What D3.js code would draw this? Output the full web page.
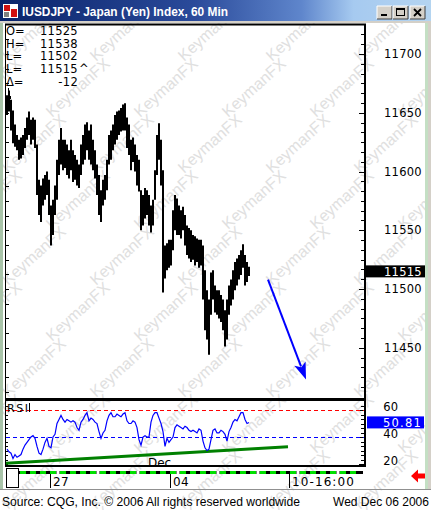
<!DOCTYPE html>
<html><head><meta charset="utf-8">
<script src="https://cdn.jsdelivr.net/npm/d3@7"></script>
<style>body{margin:0;background:#fff;} svg{display:block;}</style>
</head><body><svg id="c" width="431" height="510"></svg>
<script>
// ---------- DATA ----------
const barHigh = [
11665,11669,11661,11652,11640,11631,11627,11629,11631,11637,
11646,11651,11644,11646,11644,11623,11593,11588,11594,11597,
11600,11593,11571,11576,11588,11610,11627,11637,11627,11627,
11623,11618,11627,11618,11614,11610,11606,11623,11631,11640,
11642,11635,11640,11627,11618,11606,11597,11584,11593,11597,
11610,11631,11635,11640,11648,11651,11652,11654,11657,11658,
11646,11640,11627,11629,11623,11614,11610,11584,11580,11586,
11584,11580,11571,11576,11601,11631,11641,11627,11601,11537,
11539,11542,11542,11567,11580,11577,11571,11567,11570,11563,
11554,11552,11550,11546,11545,11543,11542,11542,11537,11516,
11499,11491,11514,11516,11503,11499,11499,11495,11491,11482,
11491,11503,11508,11516,11523,11526,11529,11533,11538,11529,
11523,11519];
const barLow = [
11648,11651,11635,11624,11621,11618,11610,11611,11614,11620,
11627,11631,11623,11627,11620,11580,11563,11557,11571,11576,
11580,11563,11537,11546,11563,11576,11597,11606,11601,11603,
11597,11594,11601,11591,11593,11588,11586,11597,11606,11610,
11618,11610,11606,11601,11594,11580,11563,11557,11571,11576,
11584,11606,11610,11618,11623,11627,11631,11634,11635,11635,
11620,11614,11601,11608,11600,11588,11583,11550,11554,11560,
11563,11554,11548,11554,11576,11597,11610,11588,11497,11509,
11516,11518,11520,11533,11550,11546,11546,11543,11550,11537,
11529,11526,11523,11525,11520,11523,11518,11520,11491,11465,
11457,11444,11478,11491,11480,11478,11475,11472,11465,11451,
11457,11478,11486,11491,11499,11503,11508,11512,11518,11503,
11506,11511];
const rsiValues = [
31,29,28,24,27,25,26,27,31,34,
36,38,40,41,39,33,28,27,31,36,
39,33,32,40,42,50,53,56,53,51,
53,52,51,52,51,47,45,51,53,56,
58,52,54,53,51,50,44,39,43,45,
52,56,58,55,55,57,56,55,57,58,
52,50,50,52,51,47,38,34,40,41,
40,40,51,56,58,58,54,50,44,33,
39,36,38,40,47,49,48,47,46,48,
47,45,44,45,44,43,46,45,37,32,
30,31,38,45,46,43,43,45,44,42,
37,44,47,51,53,52,55,58,58,53,
50,50.81];
const priceTicks = [11450, 11500, 11550, 11600, 11650, 11700];
const rsiTicks = [20, 40, 60];
const rsiLevels = [60, 40];
const timeTickIdx = [22, 82, 141.5];
const timeTickLabels = ["27", "04", "10-16:00"];
const monthLabel = "Dec";
const infoNames = ["O=", "H=", "L=", "L=", "\u0394="];
const infoValues = ["11525", "11538", "11502", "11515", "-12"];
const infoSuffix = ["", "", "", "^", ""];
const lastPrice = 11515;
const lastRsi = 50.81;
const trendIdx = [0, 141];
const trendRsi = [20.5, 32.8];
const arrowIdx = [131, 150];
const arrowPrice = [11508, 11423];
const titleText = "IUSDJPY - Japan (Yen) Index, 60 Min";
const footerLeft = "Source: CQG, Inc. \u00a9 2006 All rights reserved worldwide";
const footerRight = "Wed Dec 06 2006";

// ---------- SCALES ----------
const W = 431, H = 510;
const svg = d3.select("#c");
const x = d3.scaleLinear().domain([0, 180]).range([6, 366]);
const yP = d3.scaleLinear().domain([11450, 11700]).range([347.75, 54]);
const yR = d3.scaleLinear().domain([20, 60]).range([464, 410]);
const numFont = "'DejaVu Sans', sans-serif";

svg.append("rect").attr("width", W).attr("height", H).attr("fill", "#fff");

// watermark (clipped to the window)
const defs = svg.append("defs");
defs.append("clipPath").attr("id", "wc").append("rect").attr("x", 0).attr("y", 22).attr("width", W).attr("height", H - 22);
const wm = svg.append("g").attr("clip-path", "url(#wc)").attr("fill", "#e0e0e0")
  .style("font-family", "'Liberation Sans', Arial, sans-serif").style("font-size", "16px");
for (let r = 0; r < 10; r++) {
  for (let c = -1; c < 6; c++) {
    const x0 = c * 88 + (r % 2) * 44 + 8, y0 = 62 + r * 56;
    wm.append("text").attr("transform", `translate(${x0},${y0}) rotate(-42)`).text("KeymanFX");
  }
}

// side strips
svg.append("rect").attr("x", 0).attr("y", 22).attr("width", 3).attr("height", 467).attr("fill", "#a9c4a9");
svg.append("rect").attr("x", 425).attr("y", 22).attr("width", 3).attr("height", 467).attr("fill", "#c4dfc4");
svg.append("rect").attr("x", 428).attr("y", 22).attr("width", 3).attr("height", 467).attr("fill", "#d4d0c8");

// title bar
const grad = defs.append("linearGradient").attr("id", "tg").attr("x1", 0).attr("x2", 1).attr("y1", 0).attr("y2", 0);
[[0, "#0a246a"], [0.45, "#2a4a9a"], [0.7, "#5f86cc"], [0.82, "#a6caf0"], [1, "#b4d4f0"]]
  .forEach(([o, c]) => grad.append("stop").attr("offset", o).attr("stop-color", c));
svg.append("rect").attr("x", 0).attr("y", 0).attr("width", W).attr("height", 22).attr("fill", "url(#tg)");
svg.append("rect").attr("x", 0).attr("y", 21).attr("width", W).attr("height", 2).attr("fill", "#d4d0c8");
// icon
svg.append("rect").attr("x", 3).attr("y", 4).attr("width", 15).attr("height", 14).attr("fill", "#fff");
svg.append("rect").attr("x", 4).attr("y", 5).attr("width", 6).attr("height", 6).attr("fill", "#d01010");
svg.append("rect").attr("x", 11).attr("y", 9).attr("width", 6).attr("height", 8).attr("fill", "#d01010");
svg.append("rect").attr("x", 4).attr("y", 12).attr("width", 5).attr("height", 5).attr("fill", "#808080");
svg.append("text").attr("x", 22).attr("y", 16).attr("fill", "#fff")
  .attr("textLength", 206).attr("lengthAdjust", "spacingAndGlyphs")
  .style("font-family", "'Liberation Sans', Arial, sans-serif").style("font-weight", "bold").style("font-size", "12.5px")
  .text(titleText);
// buttons
[377, 393, 410].forEach((bx, k) => {
  const g = svg.append("g");
  g.append("rect").attr("x", bx).attr("y", 6).attr("width", 15).attr("height", 13).attr("fill", "#d4d0c8");
  g.append("path").attr("d", `M${bx},${19}V6H${bx + 15}`).attr("stroke", "#fff").attr("fill", "none");
  g.append("path").attr("d", `M${bx},${19}H${bx + 15}V6`).attr("stroke", "#404040").attr("fill", "none");
  if (k === 0) g.append("rect").attr("x", bx + 4).attr("y", 14).attr("width", 6).attr("height", 2).attr("fill", "#000");
  if (k === 1) {
    g.append("rect").attr("x", bx + 3.5).attr("y", 8.5).attr("width", 8).attr("height", 7).attr("fill", "none").attr("stroke", "#000");
    g.append("rect").attr("x", bx + 3.5).attr("y", 8.5).attr("width", 8).attr("height", 1.5).attr("fill", "#000");
  }
  if (k === 2) g.append("path").attr("d", `M${bx + 4},9L${bx + 11},16M${bx + 11},9L${bx + 4},16`).attr("stroke", "#000").attr("stroke-width", 1.8);
});

// ---------- PRICE PANEL ----------
defs.append("clipPath").attr("id", "pc").append("rect").attr("x", 6).attr("y", 25).attr("width", 359).attr("height", 373);
const bars = svg.append("g").attr("clip-path", "url(#pc)");
bars.selectAll("line").data(barHigh).join("line")
  .attr("x1", (d, i) => x(i) + 1).attr("x2", (d, i) => x(i) + 1)
  .attr("y1", d => yP(d)).attr("y2", (d, i) => Math.max(yP(barLow[i]), yP(d) + 1))
  .attr("stroke", "#000").attr("stroke-width", 2);

// blue arrow
const ax1 = x(arrowIdx[0]), ay1 = yP(arrowPrice[0]), ax2 = x(arrowIdx[1]), ay2 = yP(arrowPrice[1]);
const ang = Math.atan2(ay2 - ay1, ax2 - ax1), hl = 17, hw = 6;
const bx0 = ax2 - hl * Math.cos(ang), by0 = ay2 - hl * Math.sin(ang);
svg.append("line").attr("x1", ax1).attr("y1", ay1).attr("x2", bx0 + 3 * Math.cos(ang)).attr("y2", by0 + 3 * Math.sin(ang))
  .attr("stroke", "#0000ff").attr("stroke-width", 2);
svg.append("path").attr("fill", "#0000ff")
  .attr("d", `M${ax2},${ay2}L${bx0 - hw * Math.sin(ang)},${by0 + hw * Math.cos(ang)}L${bx0 + 4 * Math.cos(ang)},${by0 + 4 * Math.sin(ang)}L${bx0 + hw * Math.sin(ang)},${by0 - hw * Math.cos(ang)}Z`);

// info text
const info = svg.append("g").style("font-family", numFont).style("font-size", "11.5px").attr("fill", "#000");
infoNames.forEach((n, k) => {
  const by = 35 + k * 12.7;
  info.append("text").attr("x", 6).attr("y", by).text(n);
  info.append("text").attr("x", 78).attr("y", by).attr("text-anchor", "end").style("letter-spacing", "0.3px").text(infoValues[k]);
  if (infoSuffix[k]) info.append("text").attr("x", 79).attr("y", by).text(infoSuffix[k]);
});
svg.append("path").attr("d", "M8.5,88V97H11").attr("stroke", "#000").attr("fill", "none");
svg.append("rect").attr("x", 8).attr("y", 96).attr("width", 3).attr("height", 3).attr("fill", "#000");

// ticks - price right / left
const ptk = svg.append("g").attr("stroke", "#000");
d3.range(11400, 11730, 50 / 6).forEach(v => {
  const yy = Math.round(yP(v)) + 0.5;
  if (yy < 26 || yy > 397) return;
  const major = Math.abs(v % 50) < 0.01 || Math.abs(v % 50 - 50) < 0.01;
  ptk.append("line").attr("x1", major ? 359 : 361).attr("x2", 364).attr("y1", yy).attr("y2", yy);
});
d3.range(11400, 11730, 12.5).forEach(v => {
  const yy = Math.round(yP(v)) + 0.5;
  if (yy < 26 || yy > 397) return;
  ptk.append("line").attr("x1", 6).attr("x2", 9).attr("y1", yy).attr("y2", yy);
});
const plab = svg.append("g").style("font-family", numFont).style("font-size", "11.5px").attr("fill", "#000");
plab.selectAll("text").data(priceTicks).join("text")
  .attr("x", 422).attr("y", d => yP(d) + 4).attr("text-anchor", "end").style("letter-spacing", "0.3px").text(d => d);
svg.append("rect").attr("x", 366).attr("y", yP(lastPrice) - 6).attr("width", 59).attr("height", 12).attr("fill", "#000");
svg.append("text").attr("x", 422).attr("y", yP(lastPrice) + 4.5).attr("text-anchor", "end").attr("fill", "#fff")
  .style("font-family", numFont).style("font-size", "11.5px").style("letter-spacing", "0.3px").text(lastPrice);

// ---------- RSI PANEL ----------
svg.selectAll(".lvl").data(rsiLevels).join("line").attr("class", "lvl")
  .attr("x1", 6).attr("x2", 364).attr("y1", d => Math.round(yR(d)) + 0.5).attr("y2", d => Math.round(yR(d)) + 0.5)
  .attr("stroke", (d, i) => i === 0 ? "#ff0000" : "#0000ff").attr("stroke-dasharray", "4,3");
svg.append("line").attr("x1", x(trendIdx[0])).attr("x2", x(trendIdx[1]))
  .attr("y1", yR(trendRsi[0])).attr("y2", yR(trendRsi[1])).attr("stroke", "#008000").attr("stroke-width", 3);
const rsiLine = d3.line().x((d, i) => x(i) + 1).y(d => yR(d));
svg.append("path").datum(rsiValues).attr("d", rsiLine).attr("fill", "none").attr("stroke", "#0000ff").attr("stroke-width", 1.2);
svg.append("text").attr("x", 7).attr("y", 412).style("font-family", numFont).style("font-size", "11px").style("letter-spacing", "1.5px").text("RSI");
svg.append("line").attr("x1", 29.5).attr("x2", 29.5).attr("y1", 403).attr("y2", 412).attr("stroke", "#000");
d3.range(10, 70, 10 / 3).forEach(v => {
  const yy = Math.round(yR(v)) + 0.5;
  if (yy < 403 || yy > 465) return;
  const major = Math.abs(v - Math.round(v / 20) * 20) < 0.01;
  ptk.append("line").attr("x1", major ? 359 : 361).attr("x2", 364).attr("y1", yy).attr("y2", yy);
  ptk.append("line").attr("x1", 6).attr("x2", 8).attr("y1", yy).attr("y2", yy);
});
svg.append("g").style("font-family", numFont).style("font-size", "11.5px")
  .selectAll("text").data(rsiTicks).join("text")
  .attr("x", 398).attr("y", d => yR(d) + 1).attr("text-anchor", "end").text(d => d);
svg.append("rect").attr("x", 367).attr("y", yR(lastRsi) - 6).attr("width", 57).attr("height", 12).attr("fill", "#0000ff");
svg.append("text").attr("x", 422).attr("y", yR(lastRsi) + 4.5).attr("text-anchor", "end").attr("fill", "#fff")
  .style("font-family", numFont).style("font-size", "11.5px").style("letter-spacing", "1.2px").text(lastRsi.toFixed(2));
svg.append("text").attr("x", x(71)).attr("y", 467).style("font-family", numFont).style("font-size", "12px").text(monthLabel);

// ---------- FRAMES ----------
const fr = svg.append("g").attr("stroke", "#000");
fr.append("line").attr("x1", 5).attr("x2", 366).attr("y1", 24.5).attr("y2", 24.5).attr("stroke-width", 2);
fr.append("line").attr("x1", 5.5).attr("x2", 5.5).attr("y1", 24).attr("y2", 466);
fr.append("line").attr("x1", 365).attr("x2", 365).attr("y1", 24).attr("y2", 467).attr("stroke-width", 2);
fr.append("line").attr("x1", 5).attr("x2", 366).attr("y1", 399.5).attr("y2", 399.5).attr("stroke-width", 3);
fr.append("line").attr("x1", 5).attr("x2", 366).attr("y1", 466).attr("y2", 466).attr("stroke-width", 2);

// ---------- TIME AXIS ----------
svg.append("rect").attr("x", 6.5).attr("y", 468.5).attr("width", 12).attr("height", 19).attr("fill", "#fff").attr("stroke", "#000");
svg.append("rect").attr("x", 19).attr("y", 471).attr("width", 344).attr("height", 3).attr("fill", "#000");
d3.range(20, 360, 10).forEach((gx, k) => {
  svg.append("rect").attr("x", gx).attr("y", 471).attr("width", 6).attr("height", 3).attr("fill", "#00e000");
  if (k % 4 === 3) svg.append("rect").attr("x", gx + 6.5).attr("y", 471).attr("width", 3).attr("height", 3).attr("fill", "#fff");
});
timeTickIdx.forEach((ti, k) => {
  const tx = Math.round(x(ti)) + 0.5;
  svg.append("line").attr("x1", tx).attr("x2", tx).attr("y1", 474).attr("y2", 488).attr("stroke", "#000");
  svg.append("text").attr("x", tx + 2.5).attr("y", 486).style("font-family", numFont).style("font-size", "12px")
    .style("letter-spacing", k === 2 ? "1.1px" : "0.3px").text(timeTickLabels[k]);
});
svg.append("path").attr("fill", "#ff0000").attr("d", "M411,476L418,469.5V473.5H425V478.5H418V482.5Z");

// ---------- FOOTER ----------
svg.append("line").attr("x1", 0).attr("x2", W).attr("y1", 489.5).attr("y2", 489.5).attr("stroke", "#909090");
svg.append("text").attr("x", 2).attr("y", 506).attr("textLength", 298).attr("lengthAdjust", "spacingAndGlyphs")
  .style("font-family", "'Liberation Sans', Arial, sans-serif").style("font-size", "12.5px").text(footerLeft);
svg.append("text").attr("x", 333).attr("y", 506).attr("textLength", 96).attr("lengthAdjust", "spacingAndGlyphs")
  .style("font-family", "'Liberation Sans', Arial, sans-serif").style("font-size", "12.5px").text(footerRight);
</script></body></html>
